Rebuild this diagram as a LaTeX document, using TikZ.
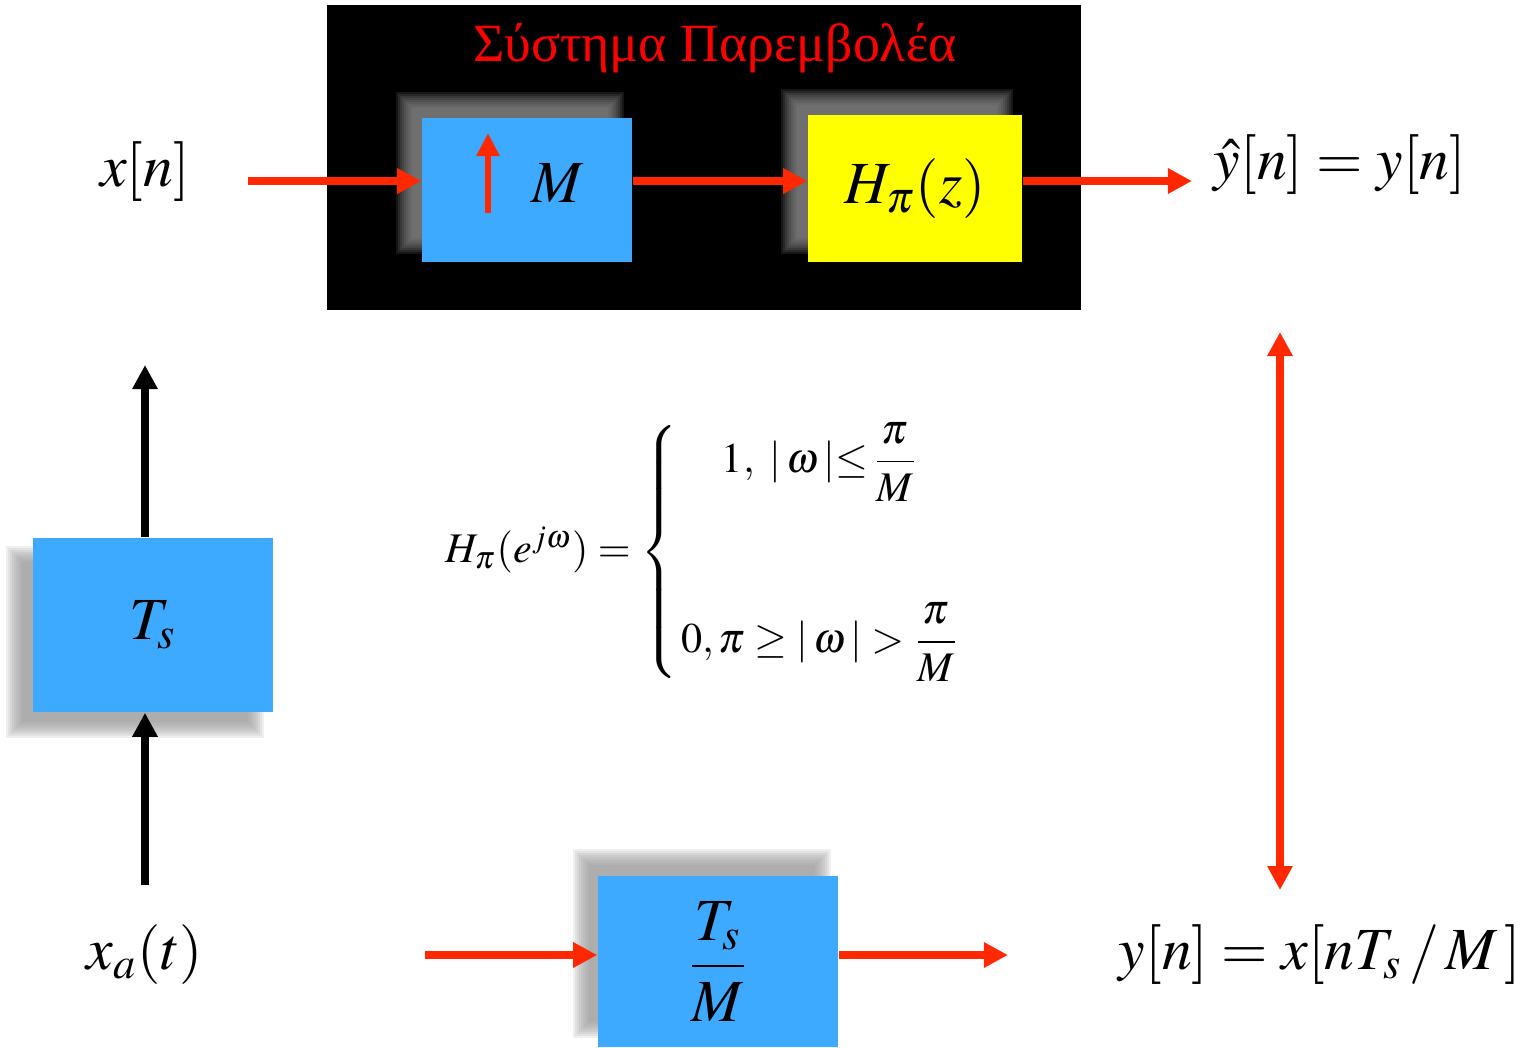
\documentclass[tikz,border=0pt]{standalone}
\usepackage{amsmath}
\usepackage{mathptmx}
\usepackage{fontspec}
\setmainfont{Liberation Serif}
\usetikzlibrary{arrows.meta,positioning,backgrounds}

\definecolor{boxblue}{RGB}{62,170,255}
\definecolor{arrred}{RGB}{255,40,0}
\definecolor{titlered}{RGB}{255,0,0}
\definecolor{hyellow}{RGB}{255,255,0}
\definecolor{shadowgray}{gray}{0.58}

\tikzset{
  block/.style={fill=boxblue, inner sep=0pt, minimum width=2.4cm, minimum height=1.74cm},
  lbl/.style={inner sep=1pt, font=\fontsize{17}{20}\selectfont},
  redarrow/.style={draw=arrred, line width=2.2pt, -{Triangle[length=0.24cm,width=0.24cm]}},
  blackarrow/.style={draw=black, line width=2.3pt, -{Triangle[length=0.24cm,width=0.24cm]}},
}

% soft shadow behind a box node
\newcommand{\boxshadow}[3]{%
  \foreach \e in {-8,-6,...,8}
    \fill[shadowgray,opacity=.15]
      ([shift={(#2+\e,#3+\e)}]#1.north west) rectangle
      ([shift={(#2-\e,#3-\e)}]#1.south east);}

\begin{document}
\begin{tikzpicture}[x=0.01cm, y=-0.01cm]
  \useasboundingbox (0,0) rectangle (1529,1047);

  % boxes
  \node[block, minimum width=2.1cm, minimum height=1.44cm] (up) at (527,190) {};
  \node[block, fill=hyellow, minimum width=2.14cm, minimum height=1.47cm, lbl] (hpi) at (915,188.5) {$H_\pi(z)$};
  \node[block, lbl] (ts) at (153,625) {$T_s$};
  \node[block, minimum height=1.71cm, lbl] (tsm) at (718,961.5) {$\dfrac{T_s}{M}$};

  \begin{pgfonlayer}{background}
    \fill[black] (327,5) rectangle (1081,310);
    \boxshadow{up}{-17}{-17}
    \boxshadow{hpi}{-18}{-17}
    \boxshadow{ts}{-18}{17}
    \boxshadow{tsm}{-16}{-18}
  \end{pgfonlayer}

  % labels
  \node[text=titlered, font=\fontsize{15.3}{18}\selectfont] (title) at (715,48) {Σύστημα Παρεμβολέα};
  \node[lbl] (upM) at (558,183) {$M$};
  \draw[draw=arrred, line width=1.9pt, -{Triangle[length=0.23cm,width=0.22cm]}] (488,213) -- (488,133);
  \node[lbl] (xn) at (145,172) {$x[n]$};
  \node[lbl] (yhat) at (1340,165) {$\hat{y}[n]=y[n]$};
  \node[lbl] (xa) at (145,955) {$x_a(t)$};
  \node[lbl] (yn) at (1320,955) {$y[n]=x[nT_s\,/\,M\,]$};
  \node[font=\fontsize{12}{14}\selectfont] (hform) at (706,552)
    {\setlength{\arraycolsep}{1pt}$H_\pi(e^{j\omega}) = \left\{\begin{array}{c}
      1,\ |\,\omega\,|{\le}\, \dfrac{\pi}{M} \\[6ex]
      0, \pi \ge |\,\omega\,| > \dfrac{\pi}{M}
    \end{array}\right.$};

  % connectors
  \coordinate (in1) at (248,181);
  \coordinate (out1) at (1192,181);
  \draw[redarrow] (in1) -- (in1 -| up.west);
  \draw[redarrow] (up.east |- in1) -- (hpi.west |- in1);
  \draw[redarrow] (hpi.east |- in1) -- (out1);

  \coordinate (in2) at (425,955);
  \coordinate (out2) at (1008,955);
  \draw[redarrow] (in2) -- (in2 -| tsm.west);
  \draw[redarrow] (tsm.east |- in2) -- (out2);

  \coordinate (s1) at (145,885);
  \coordinate (s2) at (145,365);
  \draw[blackarrow] (s1) -- (s1 |- ts.south);
  \draw[blackarrow] (s1 |- ts.north) -- (s2);

  \coordinate (d1) at (1280,332);
  \coordinate (d2) at (1280,890);
  \draw[redarrow, {Triangle[length=0.24cm,width=0.24cm]}-{Triangle[length=0.24cm,width=0.24cm]}] (d1) -- (d2);
\end{tikzpicture}
\end{document}
